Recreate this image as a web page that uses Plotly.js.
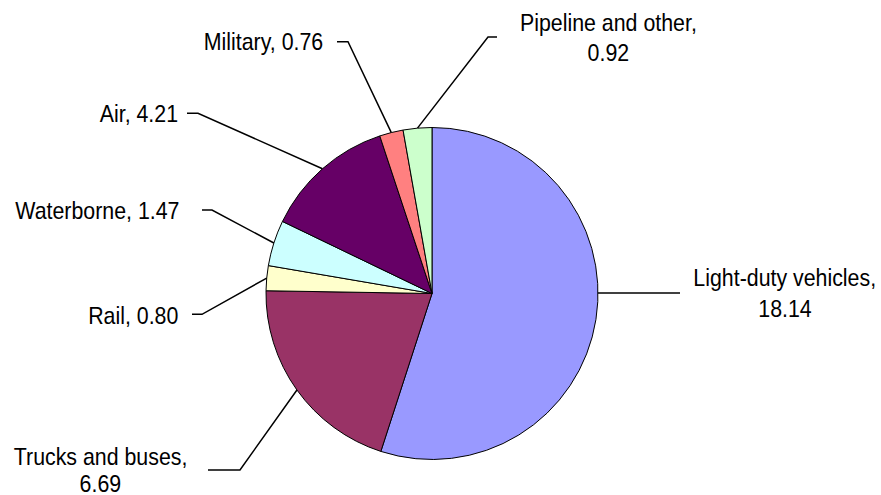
<!DOCTYPE html>
<html>
<head>
<meta charset="utf-8">
<script src="https://cdn.plot.ly/plotly-3.0.1.min.js"></script>
<style>
  html, body { margin: 0; padding: 0; background: #fff; }
  #chart { width: 881px; height: 495px; }
</style>
</head>
<body>
<div id="chart"></div>
<script>
// Transportation energy use by mode
const categories = ['Light-duty vehicles', 'Trucks and buses', 'Rail', 'Waterborne', 'Air', 'Military', 'Pipeline and other'];
const values = [18.14, 6.69, 0.80, 1.47, 4.21, 0.76, 0.92];
const colors = ['#9999FF', '#993366', '#FFFFCC', '#CCFFFF', '#660066', '#FF8080', '#CCFFCC'];

// Canvas and pie geometry in pixels
const W = 881, H = 495;
const CX = 432, CY = 293.5, R = 166;

// Label placement in pixels: text anchor, leader line start and elbow
const labelPlacement = [
  { split: true,  x: 784.5, y: [277.5, 308.5], anchor: 'center', lineY: 293,   lineStart: 680, elbow: 680 },
  { split: true,  x: 100,   y: [456.5, 483],   anchor: 'center', lineY: 470,   lineStart: 208, elbow: 240 },
  { split: false, x: 178,   y: [315],          anchor: 'right',  lineY: 314.3, lineStart: 192, elbow: 202 },
  { split: false, x: 180,   y: [210],          anchor: 'right',  lineY: 210,   lineStart: 202, elbow: 212 },
  { split: false, x: 178,   y: [113],          anchor: 'right',  lineY: 113.3, lineStart: 187, elbow: 198 },
  { split: false, x: 323,   y: [42],           anchor: 'right',  lineY: 41.7,  lineStart: 337, elbow: 348 },
  { split: true,  x: 608,   y: [22.5, 52.5],   anchor: 'center', lineY: 37,    lineStart: 497, elbow: 488 }
];

// Labels use a narrow face: a regular sans squeezed horizontally
const FONT = { family: '"Liberation Sans", Arial, sans-serif', size: 24, color: '#000' };
const NARROW = 0.89;

const px = x => x / W;
const py = y => 1 - y / H;

const total = values.reduce((a, b) => a + b, 0);
const annotations = [];
const shapes = [];

let cum = 0;
values.forEach((v, i) => {
  // slice angles, clockwise from 12 o'clock, in degrees
  const a0 = cum / total * 360;
  const a1 = (cum + v) / total * 360;
  cum += v;
  const p = labelPlacement[i];

  // leader end: where the horizontal leader meets this slice's arc, otherwise the arc midpoint
  let ang = (a0 + a1) / 2;
  const dy = p.lineY - CY;
  if (Math.abs(dy) < R) {
    const side = p.elbow >= CX ? 1 : -1;
    const hx = side * Math.sqrt(R * R - dy * dy);
    let hAng = Math.atan2(hx, -dy) * 180 / Math.PI;
    if (hAng < 0) hAng += 360;
    if (hAng >= a0 && hAng <= a1) ang = hAng;
  }
  const rad = ang * Math.PI / 180;
  const ex = CX + R * Math.sin(rad);
  const ey = CY - R * Math.cos(rad);

  shapes.push({
    type: 'path', xref: 'paper', yref: 'paper',
    path: `M ${px(p.lineStart)},${py(p.lineY)} L ${px(p.elbow)},${py(p.lineY)} L ${px(ex)},${py(ey)}`,
    line: { color: '#000', width: 1.5 }
  });

  const valText = v.toFixed(2);
  const lines = p.split ? [categories[i] + ',', valText] : [categories[i] + ', ' + valText];
  lines.forEach((t, k) => {
    annotations.push({
      xref: 'paper', yref: 'paper', x: px(p.x), y: py(p.y[k]),
      xanchor: p.anchor, yanchor: 'middle', showarrow: false,
      text: t, font: FONT, borderpad: 0, borderwidth: 0
    });
  });
});

const trace = {
  type: 'pie',
  labels: categories,
  values: values,
  sort: false,
  direction: 'clockwise',
  rotation: 0,
  textinfo: 'none',
  textposition: 'inside',
  hoverinfo: 'label+value',
  marker: { colors: colors, line: { color: '#000', width: 1 } },
  domain: { x: [px(CX - R), px(CX + R)], y: [py(CY + R), py(CY - R)] },
  showlegend: false
};

const layout = {
  width: W, height: H,
  margin: { l: 0, r: 0, t: 0, b: 0, pad: 0 },
  paper_bgcolor: '#fff',
  plot_bgcolor: '#fff',
  showlegend: false,
  annotations: annotations,
  shapes: shapes
};

Plotly.newPlot('chart', [trace], layout, { staticPlot: true, displayModeBar: false }).then(gd => {
  // condense each label around its anchor edge
  gd.querySelectorAll('g.annotation').forEach(g => {
    const idx = +g.getAttribute('data-index');
    const ann = annotations[idx];
    const txt = g.querySelector('text.annotation-text');
    if (!ann || !txt) return;
    const bb = txt.getBBox();
    const ox = ann.xanchor === 'right' ? bb.x + bb.width : bb.x + bb.width / 2;
    const prev = txt.getAttribute('transform') || '';
    txt.setAttribute('transform', `${prev} translate(${ox},0) scale(${NARROW},1) translate(${-ox},0)`);
  });
});
</script>
</body>
</html>
